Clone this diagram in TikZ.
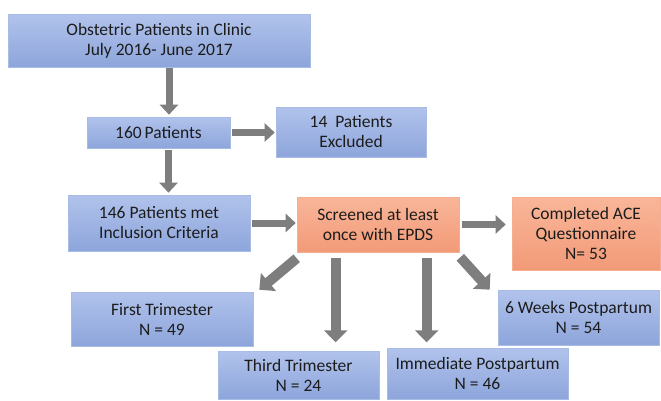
\documentclass[tikz,border=0pt]{standalone}
\usepackage{fontspec}
\setmainfont{Carlito}
\usetikzlibrary{arrows.meta,calc}
\definecolor{bluetop}{HTML}{B1C3EC}
\definecolor{bluebot}{HTML}{8DA5DB}
\definecolor{blueedge}{HTML}{A9BCE6}
\definecolor{orgtop}{HTML}{F9B699}
\definecolor{orgbot}{HTML}{F29A78}
\definecolor{orgedge}{HTML}{F6AE90}
\definecolor{arr}{HTML}{7E7E7E}
\definecolor{txt}{HTML}{1C1C1C}
\begin{document}
\begin{tikzpicture}[x=1pt,y=-1pt,
  box/.style={rectangle, inner sep=0pt, align=center, text=txt,
    font=\fontsize{17.5}{20}\selectfont},
  bluebox/.style={box, top color=bluetop, bottom color=bluebot, draw=blueedge, line width=0.6pt},
  orangebox/.style={box, top color=orgtop, bottom color=orgbot, draw=orgedge, line width=0.6pt},
  arrsm/.style={draw=arr, line width=7pt, -{Triangle[width=18pt,length=10pt]}},
  arrbig/.style={draw=arr, line width=10pt, -{Triangle[width=23pt,length=12pt]}},
]
\useasboundingbox (0,0) rectangle (661,400);

\node[bluebox, minimum width=302pt, minimum height=53pt] (top) at (159,40.5)
  {Obstetric Patients in Clinic\\July 2016- June 2017};
\node[bluebox, minimum width=143pt, minimum height=31pt] (p160) at (158.5,132.5)
  {160\,Patients};
\node[bluebox, minimum width=150pt, minimum height=50pt] (excl) at (351,132)
  {14\ \ Patients\\Excluded};
\node[bluebox, minimum width=182pt, minimum height=56pt] (incl) at (159,223)
  {146 Patients met\\Inclusion Criteria};
\node[orangebox, minimum width=162pt, minimum height=55pt] (scr) at (378,224.5)
  {Screened at least\\once with EPDS};
\node[orangebox, minimum width=148pt, minimum height=73pt] (ace) at (586,233.5)
  {Completed ACE\\Questionnaire\\N= 53};
\node[bluebox, minimum width=182pt, minimum height=54pt] (first) at (162,319)
  {First Trimester\\N = 49};
\node[bluebox, minimum width=161pt, minimum height=48pt] (third) at (298.5,375)
  {Third Trimester\\N = 24};
\node[bluebox, minimum width=181pt, minimum height=51pt] (imm) at (477.5,373.5)
  {Immediate Postpartum\\N = 46};
\node[bluebox, minimum width=161pt, minimum height=55pt] (six) at (578.5,317.5)
  {6 Weeks Postpartum\\N = 54};

% connectors
\draw[arrsm, shorten <=1pt, shorten >=2pt] ([xshift=10pt]top.south) -- ([xshift=10pt]top.south |- p160.north);
\draw[arrsm, shorten <=2pt, shorten >=1pt] (p160.east) -- (p160.east -| excl.west);
\draw[arrsm, shorten <=2pt, shorten >=2pt] ([xshift=10pt]p160.south) -- ([xshift=10pt]p160.south |- incl.north);
\draw[arrsm, shorten <=2pt, shorten >=1pt] (incl.east) -- (incl.east -| scr.west);
\draw[arrsm, shorten <=3pt, shorten >=6pt] (scr.east) -- (scr.east -| ace.west);
\draw[arrbig] ($(scr.south west)+(0,6)$) -- ($(first.north east)+(6,-2)$);
\draw[arrbig] ($(scr.south west)+(39,6)$) -- ($(scr.south west)+(39,90)$);
\draw[arrbig] ($(scr.south west)+(130,6)$) -- ($(scr.south west)+(130,90)$);
\draw[arrbig] ($(scr.south east)+(1,5)$) -- ($(six.north west)+(-8,0)$);
\end{tikzpicture}
\end{document}
